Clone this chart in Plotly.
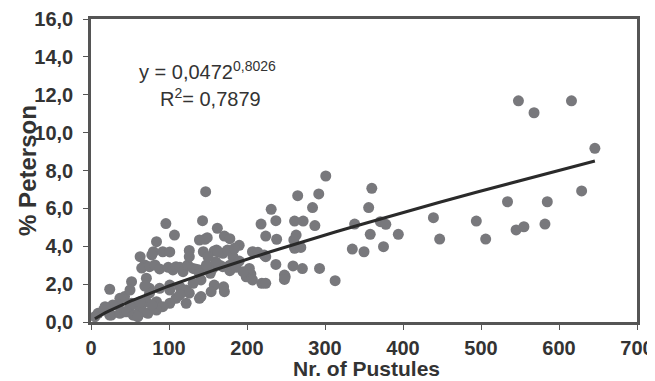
import numpy as np
import plotly.graph_objects as go

# Nr. of Pustules (x) and % Peterson (y)
pustules = [
    548, 568, 616, 646, 629, 585, 534, 439, 494, 447, 506, 545, 555, 582,
    301, 265, 292, 360, 284, 356, 261, 272, 287, 338, 371, 378, 263, 260, 358, 394,
    261, 269, 335, 350, 375, 259, 271, 293, 313, 249,
    231, 218, 237, 224, 238, 207, 214, 224, 237, 199, 205, 248, 248, 219, 224, 203, 222, 190,
    147, 143, 162, 171, 146, 178, 149, 139, 161, 169, 182, 190, 139, 165, 178, 153, 158, 170,
    171, 141, 141, 144, 158, 163, 175, 184, 148, 156, 169, 178, 186, 195, 148, 160, 150, 154,
    139, 207,
    96, 107, 84, 80, 92, 101, 126, 78, 63, 69, 65, 75, 82, 88, 99, 105, 109, 114, 118, 124,
    131, 135, 139, 126, 71, 52, 75, 88, 101, 114, 122, 131, 69, 75, 126, 109, 114, 101, 84,
    101, 122, 92, 71, 84, 63,
    24, 43, 37, 50, 52, 35, 28, 18, 50, 9, 16, 5, 24, 26, 37, 43, 46, 54, 56, 67, 60, 73, 78, 63,
]
peterson = [
    11.68, 11.05, 11.68, 9.17, 6.92, 6.35, 6.35, 5.51, 5.33, 4.38, 4.38, 4.86, 5.03, 5.17,
    7.71, 6.67, 6.76, 7.06, 6.04, 6.04, 5.33, 5.33, 5.09, 5.17, 5.30, 5.16, 4.59, 4.33, 4.63, 4.63,
    3.89, 3.94, 3.85, 3.71, 3.98, 2.96, 2.82, 2.83, 2.18, 2.39,
    5.95, 5.17, 5.35, 4.54, 4.37, 3.71, 3.68, 3.45, 3.04, 2.39, 2.53, 2.48, 2.25, 2.04, 2.04, 2.83, 3.54, 4.05,
    6.88, 5.35, 4.95, 4.54, 4.37, 4.40, 4.45, 4.33, 3.80, 3.63, 3.45, 3.22, 2.75, 3.00, 3.00, 2.57, 1.95, 1.86,
    1.60, 2.22, 1.34, 3.71, 3.75, 3.71, 3.80, 3.89, 2.92, 2.83, 2.92, 2.71, 2.89, 2.66, 3.01, 3.18, 3.45, 1.60,
    1.25, 2.22,
    5.20, 4.59, 4.24, 3.71, 3.71, 3.70, 3.78, 3.54, 3.45, 3.01, 2.85, 2.92, 3.01, 2.80, 2.89, 2.75, 2.92, 2.89, 2.66, 3.01,
    2.83, 2.78, 2.57, 3.45, 2.31, 2.13, 1.78, 1.78, 1.95, 1.86, 1.69, 2.04, 1.90, 1.52, 1.52, 1.25, 1.43, 1.69, 1.07,
    0.99, 0.99, 0.81, 1.07, 0.63, 0.72,
    1.73, 1.34, 1.25, 1.69, 0.99, 0.90, 0.90, 0.81, 0.81, 0.46, 0.63, 0.28, 0.37, 0.37, 0.46, 0.54, 0.54, 0.37, 0.37, 0.54, 0.28, 0.46, 0.90, 1.07,
]

# Power trendline shown on the chart: y = 0.0472 * x^0.8026
fit_a = 0.0472
fit_b = 0.8026

x_tick_vals = [0, 100, 200, 300, 400, 500, 600, 700]
y_tick_vals = [0, 2, 4, 6, 8, 10, 12, 14, 16]

xs = np.array(sorted(set(pustules)), dtype=float)
fit_y = fit_a * xs ** fit_b

FONT = "Liberation Sans, Arial, sans-serif"
TXT = "#333333"

fig = go.Figure()
fig.add_trace(go.Scatter(
    x=pustules, y=peterson, mode="markers",
    marker=dict(size=11, color="#78787c", line=dict(width=0)),
    showlegend=False, hoverinfo="x+y",
))
fig.add_trace(go.Scatter(
    x=xs, y=fit_y, mode="lines",
    line=dict(color="#2a2a2a", width=3),
    showlegend=False, hoverinfo="skip",
))

# the page body adds an 8px offset, so the figure is sized 8px smaller
fig.update_layout(
    width=647, height=373,
    margin=dict(l=83, r=18, t=11, b=59),
    paper_bgcolor="white", plot_bgcolor="white",
    separators=",.",
    font=dict(family=FONT, color=TXT, size=20),
    xaxis=dict(
        range=[0, 700], tickvals=x_tick_vals, showgrid=False, zeroline=False,
        showline=True, mirror=True, linecolor="#555555", linewidth=2.5,
        ticks="outside", ticklen=5, tickcolor="#555555", tickwidth=1,
        tickfont=dict(family=FONT, size=20, color=TXT, weight="bold"),
        automargin=False, ticklabelstandoff=1,
    ),
    yaxis=dict(
        range=[0, 16], tickvals=y_tick_vals, tickformat=".1f", showgrid=False, zeroline=False,
        showline=True, mirror=True, linecolor="#555555", linewidth=2.5,
        ticks="outside", ticklen=5, tickcolor="#555555", tickwidth=1,
        tickfont=dict(family=FONT, size=20, color=TXT, weight="bold"),
        automargin=False, ticklabelstandoff=6,
    ),
    annotations=[
        dict(text="<b>Nr. of Pustules</b>", xref="paper", yref="paper",
             x=0.504, y=-0.155, xanchor="center", yanchor="middle", showarrow=False,
             font=dict(family=FONT, size=21, color=TXT)),
        dict(text="<b>% Peterson</b>", xref="paper", yref="paper", textangle=-90,
             x=-0.1154, y=0.502, xanchor="center", yanchor="middle", showarrow=False,
             font=dict(family=FONT, size=24, color=TXT)),
        dict(text="y = 0,0472<sup>0,8026</sup>", xref="paper", yref="paper",
             x=0.084, y=0.83, xanchor="left", yanchor="middle", showarrow=False,
             font=dict(family=FONT, size=20, color=TXT)),
        dict(text="R<sup>2</sup>= 0,7879", xref="paper", yref="paper",
             x=0.123, y=0.74, xanchor="left", yanchor="middle", showarrow=False,
             font=dict(family=FONT, size=20, color=TXT)),
    ],
)

fig.write_html("out.html")
